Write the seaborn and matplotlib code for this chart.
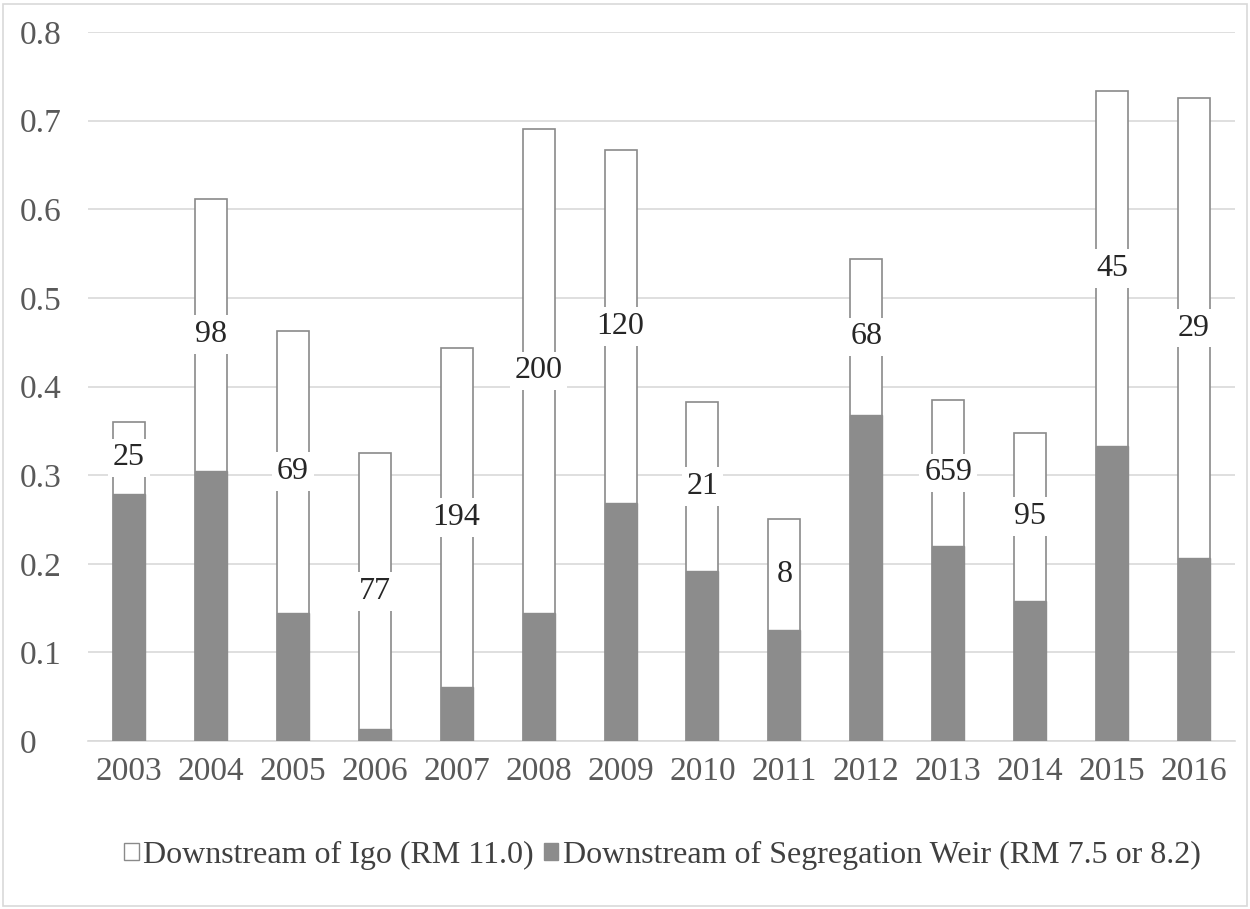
import matplotlib
matplotlib.use("Agg")
import matplotlib.pyplot as plt
import numpy as np
import pandas as pd
import seaborn as sns
from matplotlib.patches import Patch, Rectangle

years = ["2003", "2004", "2005", "2006", "2007", "2008", "2009",
         "2010", "2011", "2012", "2013", "2014", "2015", "2016"]
igo_total = [0.360, 0.612, 0.463, 0.325, 0.443, 0.690, 0.667,
             0.382, 0.250, 0.544, 0.385, 0.348, 0.733, 0.726]
weir = [0.279, 0.305, 0.145, 0.013, 0.061, 0.145, 0.268,
        0.192, 0.125, 0.368, 0.220, 0.158, 0.333, 0.206]
counts = ["25", "98", "69", "77", "194", "200", "120",
          "21", "8", "68", "659", "95", "45", "29"]

sns.set_style("white")
plt.rcParams["font.family"] = ["Liberation Serif", "DejaVu Serif"]

df = pd.DataFrame({"year": years, "total": igo_total, "weir": weir})

fig = plt.figure(figsize=(12.5, 9.09), dpi=100)
ax = fig.add_axes([0.0704, 0.1848, 0.9176, 0.78])

edge = "#8a8a8a"
sns.barplot(data=df, x="year", y="total", color="white", edgecolor=edge,
            linewidth=1.2, width=0.39, saturation=1, ax=ax, zorder=3)
sns.barplot(data=df, x="year", y="weir", color="#8c8c8c", edgecolor="#8c8c8c",
            linewidth=1.0, width=0.39, saturation=1, ax=ax, zorder=4)

# count labels in the middle of the white segment
for i, (t, w, c) in enumerate(zip(igo_total, weir, counts)):
    ax.text(i, w + (t - w) / 2, c, ha="center", va="center", fontsize=23,
            color="#262626", zorder=6,
            bbox=dict(facecolor="white", edgecolor="none", pad=3.5))

ax.set_xlim(-0.5, len(years) - 0.5)
ax.set_ylim(0, 0.8)
ax.set_yticks(np.arange(0, 0.81, 0.1))
ax.set_yticklabels(["0"] + [f"{v:.1f}" for v in np.arange(0.1, 0.81, 0.1)])
ax.yaxis.grid(True, color="#d9d9d9", linewidth=1.2, zorder=0)
ax.set_axisbelow(True)
for s in ["top", "right", "left"]:
    ax.spines[s].set_visible(False)
ax.spines["bottom"].set_color("#d9d9d9")
ax.spines["bottom"].set_linewidth(1.2)
ax.tick_params(axis="both", length=0, labelsize=24, colors="#595959")
ax.tick_params(axis="x", pad=11)
for lab in ax.get_yticklabels():
    lab.set_horizontalalignment("left")
ax.yaxis.set_tick_params(pad=49)
ax.set_xlabel("")
ax.set_ylabel("")

handles = [Patch(facecolor="white", edgecolor=edge, label="Downstream of Igo (RM 11.0)"),
           Patch(facecolor="#8c8c8c", edgecolor="#8c8c8c",
                 label="Downstream of Segregation Weir (RM 7.5 or 8.2)")]
leg = fig.legend(handles=handles, loc="center", bbox_to_anchor=(0.53, 0.059), ncol=2,
                 frameon=False, fontsize=23, handlelength=0.45, handleheight=0.45,
                 handletextpad=0.15, columnspacing=0.3, labelcolor="#404040")

fig.patches.append(Rectangle((0.0025, 0.003), 0.995, 0.993, transform=fig.transFigure,
                             fill=False, edgecolor="#d9d9d9", linewidth=1.2))

fig.savefig("out.png", dpi=100, facecolor="white")
